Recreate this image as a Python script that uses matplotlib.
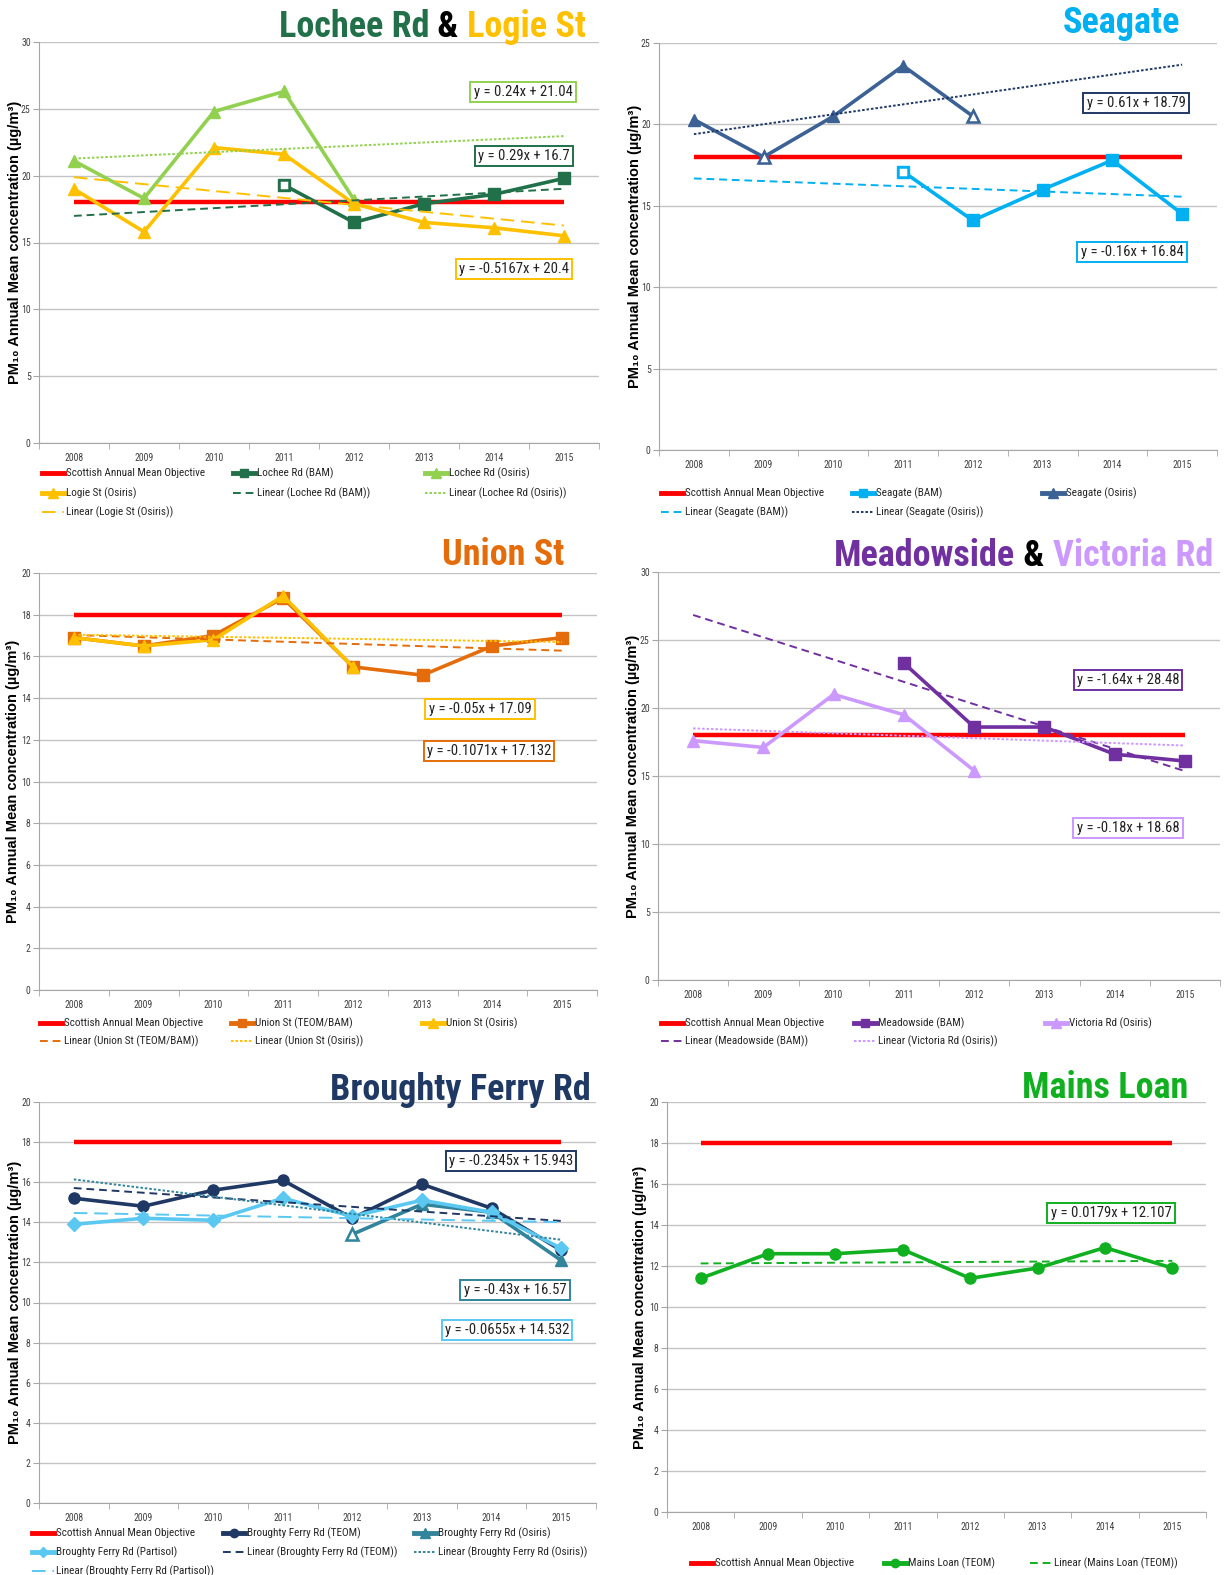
import numpy as np
import matplotlib
matplotlib.use('Agg')
import matplotlib.pyplot as plt
from matplotlib.lines import Line2D
from matplotlib import font_manager as fm

names = {f.name for f in fm.fontManager.ttflist}


def pick(cands):
    for c in cands:
        if c in names:
            return c
    return None


# Excel-style narrow font for ticks, legends and titles
NARROW_NAME = pick(['Liberation Sans Narrow', 'Arial Narrow', 'Roboto Condensed', 'Open Sans Condensed',
                    'Noto Sans Condensed', 'DejaVu Sans Condensed', 'Nimbus Sans Narrow'])
if NARROW_NAME:
    NARROW = [NARROW_NAME, 'DejaVu Sans']
    TSIZE, LSIZE, KSIZE, ESIZE = 26, 8, 7, 10.5
else:
    NARROW = ['Liberation Sans', 'DejaVu Sans']
    TSIZE, LSIZE, KSIZE, ESIZE = 21, 7, 6.5, 9
ARIAL = [pick(['Liberation Sans', 'Arimo', 'Arial']) or 'DejaVu Sans', 'DejaVu Sans']
plt.rcParams['font.family'] = NARROW

nan = np.nan
years = ['2008', '2009', '2010', '2011', '2012', '2013', '2014', '2015']
objective = [18, 18, 18, 18, 18, 18, 18, 18]

# Lochee Rd & Logie St
lochee_bam = [nan, nan, nan, 19.3, 16.5, 17.9, 18.6, 19.8]
lochee_osiris = [21.1, 18.3, 24.8, 26.3, 18.2, nan, nan, nan]
logie_osiris = [19.0, 15.8, 22.1, 21.6, 17.9, 16.5, 16.1, 15.5]
lochee_bam_fit = (0.29, 16.7)
lochee_osiris_fit = (0.24, 21.04)
logie_osiris_fit = (-0.5167, 20.4)

# Seagate
seagate_bam = [nan, nan, nan, 17.1, 14.1, 16.0, 17.8, 14.5]
seagate_osiris = [20.3, 18.0, 20.5, 23.6, 20.5, nan, nan, nan]
seagate_bam_fit = (-0.16, 16.84)
seagate_osiris_fit = (0.61, 18.79)

# Union St
union_teom = [16.9, 16.5, 17.0, 18.8, 15.5, 15.1, 16.5, 16.9]
union_osiris = [16.9, 16.5, 16.8, 18.9, 15.5, nan, nan, nan]
union_teom_fit = (-0.1071, 17.132)
union_osiris_fit = (-0.05, 17.09)

# Meadowside & Victoria Rd
meadowside_bam = [nan, nan, nan, 23.3, 18.6, 18.6, 16.6, 16.1]
victoria_osiris = [17.6, 17.1, 21.0, 19.5, 15.4, nan, nan, nan]
meadowside_fit = (-1.64, 28.48)
victoria_fit = (-0.18, 18.68)

# Broughty Ferry Rd
broughty_teom = [15.2, 14.8, 15.6, 16.1, 14.2, 15.9, 14.7, 12.6]
broughty_osiris = [nan, nan, nan, nan, 13.4, 14.9, 14.5, 12.1]
broughty_partisol = [13.9, 14.2, 14.1, 15.2, 14.3, 15.1, 14.5, 12.7]
broughty_teom_fit = (-0.2345, 15.943)
broughty_osiris_fit = (-0.43, 16.57)
broughty_partisol_fit = (-0.0655, 14.532)

# Mains Loan
mains_teom = [11.4, 12.6, 12.6, 12.8, 11.4, 11.9, 12.9, 11.9]
mains_fit = (0.0179, 12.107)

RED = '#FF0000'
DKGREEN = '#21704A'
LTGREEN = '#92D050'
YELLOW = '#FFC000'
CYAN = '#00B0F0'
STEEL = '#3B6195'
ORANGE = '#E46C0A'
PURPLE = '#7030A0'
LILAC = '#CC99FF'
NAVY = '#1F3864'
TEAL = '#31849B'
SKY = '#5BC8F2'
GREEN = '#10B020'

DASH = (0, (4, 2.5))
SQDOT = (0, (1.3, 1.0))
LONGDASH = (0, (7, 3.5))

W, H = 1226, 1575
fig = plt.figure(figsize=(W / 100, H / 100), dpi=100)
fig.patch.set_facecolor('white')
x = np.arange(1, 9)


def make_axes(l, t, r, b, ymax, step, label_x):
    ax = fig.add_axes([l / W, 1 - b / H, (r - l) / W, (b - t) / H])
    ax.set_xlim(0.5, 8.5)
    ax.set_ylim(0, ymax)
    ax.set_xticks(x)
    ax.set_xticklabels(years)
    ax.set_xticks(np.arange(0.5, 9), minor=True)
    ax.tick_params(axis='x', which='major', length=0, pad=7, labelsize=KSIZE, labelcolor='#404040')
    ax.tick_params(axis='x', which='minor', length=4, color='#A6A6A6')
    ax.set_yticks(np.arange(0, ymax + 0.01, step))
    ax.tick_params(axis='y', length=4, color='#A6A6A6', pad=2, labelsize=KSIZE, labelcolor='#404040')
    ax.grid(axis='y', color='#C4C4C4', lw=1)
    ax.set_axisbelow(True)
    for s in ['top', 'right']:
        ax.spines[s].set_visible(False)
    for s in ['left', 'bottom']:
        ax.spines[s].set_color('#A6A6A6')
    ax.plot(x, objective, color=RED, lw=3.2, zorder=2, solid_capstyle='butt')
    fig.text(label_x / W, 1 - (t + b) / 2 / H, 'PM\u2081\u2080 Annual Mean concentration (µg/m\u00b3)',
             rotation=90, ha='center', va='center', fontsize=10.5, fontweight='bold', family=ARIAL)
    return ax


def series(ax, vals, color, marker, ms, hollow=()):
    ax.plot(x, vals, color=color, lw=2.6, marker=marker, ms=ms, mfc=color, mec=color, zorder=3)
    for i in hollow:
        ax.plot(x[i], vals[i], ls='none', marker=marker, ms=ms - 1, mfc='white', mec=color, mew=1.8, zorder=3)


def trend(ax, fit, color, ls):
    ax.plot(x, fit[0] * x + fit[1], color=color, lw=1.4, ls=ls, zorder=4)


def eqbox(cx, cy, text, color):
    fig.text(cx / W, 1 - cy / H, text, ha='center', va='center', fontsize=ESIZE, color='#222222',
             bbox=dict(boxstyle='square,pad=0.22', fc='white', ec=color, lw=1.4))


def legend(x_cols, y_rows, entries):
    for k, (label, color, ls, lw, marker, ms) in enumerate(entries):
        x0 = x_cols[k % 3]
        y0 = 1 - y_rows[k // 3] / H
        fig.add_artist(Line2D([x0 / W, (x0 + 22) / W], [y0, y0], color=color, ls=ls, lw=lw))
        if marker:
            fig.add_artist(Line2D([(x0 + 11) / W], [y0], marker=marker, ms=ms, color=color, ls='none'))
        fig.text((x0 + 24) / W, y0, label, ha='left', va='center', fontsize=LSIZE, color='#262626')


def title(parts, x_end, y_base):
    r = fig.canvas.get_renderer()
    xe = x_end
    for txt, col in reversed(parts):
        t = fig.text(xe / W, 1 - y_base / H, txt, ha='right', va='baseline', color=col,
                     fontsize=TSIZE, fontweight='bold')
        xe = t.get_window_extent(renderer=r).x0


OBJ = ('Scottish Annual Mean Objective', RED, '-', 3.5, None, 0)

# Panel 1
ax = make_axes(39, 42, 599, 443, 30, 5, 15)
series(ax, lochee_bam, DKGREEN, 's', 8, hollow=[3])
series(ax, lochee_osiris, LTGREEN, '^', 9)
series(ax, logie_osiris, YELLOW, '^', 9)
trend(ax, lochee_bam_fit, DKGREEN, DASH)
trend(ax, lochee_osiris_fit, LTGREEN, SQDOT)
trend(ax, logie_osiris_fit, YELLOW, LONGDASH)
eqbox(523, 92, 'y = 0.24x + 21.04', LTGREEN)
eqbox(524, 156, 'y = 0.29x + 16.7', DKGREEN)
eqbox(514, 269, 'y = -0.5167x + 20.4', YELLOW)
title([('Lochee Rd', DKGREEN), (' & ', 'black'), ('Logie St', YELLOW)], 586, 37)
legend([42, 233, 425], [473, 493, 512], [
    OBJ,
    ('Lochee Rd (BAM)', DKGREEN, '-', 3.5, 's', 6),
    ('Lochee Rd (Osiris)', LTGREEN, '-', 3.5, '^', 7),
    ('Logie St (Osiris)', YELLOW, '-', 3.5, '^', 7),
    ('Linear (Lochee Rd (BAM))', DKGREEN, DASH, 1.4, None, 0),
    ('Linear (Lochee Rd (Osiris))', LTGREEN, SQDOT, 1.4, None, 0),
    ('Linear (Logie St (Osiris))', YELLOW, LONGDASH, 1.4, None, 0),
])

# Panel 2
ax = make_axes(659, 43, 1217, 450, 25, 5, 635)
series(ax, seagate_bam, CYAN, 's', 8, hollow=[3])
series(ax, seagate_osiris, STEEL, '^', 9, hollow=[1, 4])
trend(ax, seagate_bam_fit, CYAN, DASH)
trend(ax, seagate_osiris_fit, NAVY, SQDOT)
eqbox(1136, 103, 'y = 0.61x + 18.79', NAVY)
eqbox(1132, 252, 'y = -0.16x + 16.84', CYAN)
title([('Seagate', CYAN)], 1180, 33)
legend([661, 852, 1042], [493, 512], [
    OBJ,
    ('Seagate (BAM)', CYAN, '-', 3.5, 's', 6),
    ('Seagate (Osiris)', STEEL, '-', 3.5, '^', 7),
    ('Linear (Seagate (BAM))', CYAN, DASH, 1.4, None, 0),
    ('Linear (Seagate (Osiris))', NAVY, SQDOT, 1.4, None, 0),
])

# Panel 3
ax = make_axes(39, 573, 597, 990, 20, 2, 13)
series(ax, union_teom, ORANGE, 's', 8)
series(ax, union_osiris, YELLOW, '^', 9)
trend(ax, union_teom_fit, ORANGE, DASH)
trend(ax, union_osiris_fit, YELLOW, SQDOT)
eqbox(480, 709, 'y = -0.05x + 17.09', YELLOW)
eqbox(489, 751, 'y = -0.1071x + 17.132', ORANGE)
title([('Union St', ORANGE)], 564, 565)
legend([40, 231, 422], [1023, 1041], [
    OBJ,
    ('Union St (TEOM/BAM)', ORANGE, '-', 3.5, 's', 6),
    ('Union St (Osiris)', YELLOW, '-', 3.5, '^', 7),
    ('Linear (Union St (TEOM/BAM))', ORANGE, DASH, 1.4, None, 0),
    ('Linear (Union St (Osiris))', YELLOW, SQDOT, 1.4, None, 0),
])

# Panel 4
ax = make_axes(658, 572, 1220, 980, 30, 5, 633)
series(ax, meadowside_bam, PURPLE, 's', 8)
series(ax, victoria_osiris, LILAC, '^', 9)
trend(ax, meadowside_fit, PURPLE, DASH)
trend(ax, victoria_fit, LILAC, SQDOT)
eqbox(1128, 680, 'y = -1.64x + 28.48', PURPLE)
eqbox(1128, 828, 'y = -0.18x + 18.68', LILAC)
title([('Meadowside', PURPLE), (' & ', 'black'), ('Victoria Rd', LILAC)], 1213, 566)
legend([661, 854, 1045], [1023, 1041], [
    OBJ,
    ('Meadowside (BAM)', PURPLE, '-', 3.5, 's', 6),
    ('Victoria Rd (Osiris)', LILAC, '-', 3.5, '^', 7),
    ('Linear (Meadowside (BAM))', PURPLE, DASH, 1.4, None, 0),
    ('Linear (Victoria Rd (Osiris))', LILAC, SQDOT, 1.4, None, 0),
])

# Panel 5
ax = make_axes(39, 1102, 596, 1503, 20, 2, 15)
series(ax, broughty_teom, NAVY, 'o', 8)
series(ax, broughty_osiris, TEAL, '^', 9, hollow=[4])
series(ax, broughty_partisol, SKY, 'D', 7)
trend(ax, broughty_teom_fit, NAVY, DASH)
trend(ax, broughty_osiris_fit, TEAL, SQDOT)
trend(ax, broughty_partisol_fit, SKY, LONGDASH)
eqbox(511, 1161, 'y = -0.2345x + 15.943', NAVY)
eqbox(515, 1290, 'y = -0.43x + 16.57', TEAL)
eqbox(507, 1330, 'y = -0.0655x + 14.532', SKY)
title([('Broughty Ferry Rd', NAVY)], 591, 1100)
legend([32, 223, 414], [1533, 1552, 1571], [
    OBJ,
    ('Broughty Ferry Rd (TEOM)', NAVY, '-', 3.5, 'o', 6),
    ('Broughty Ferry Rd (Osiris)', TEAL, '-', 3.5, '^', 7),
    ('Broughty Ferry Rd (Partisol)', SKY, '-', 3.5, 'D', 5),
    ('Linear (Broughty Ferry Rd (TEOM))', NAVY, DASH, 1.4, None, 0),
    ('Linear (Broughty Ferry Rd (Osiris))', TEAL, SQDOT, 1.4, None, 0),
    ('Linear (Broughty Ferry Rd (Partisol))', SKY, LONGDASH, 1.4, None, 0),
])

# Panel 6
ax = make_axes(667, 1102, 1206, 1512, 20, 2, 640)
series(ax, mains_teom, GREEN, 'o', 8)
trend(ax, mains_fit, GREEN, DASH)
eqbox(1111, 1213, 'y = 0.0179x + 12.107', GREEN)
title([('Mains Loan', GREEN)], 1188, 1098)
legend([691, 884, 1030], [1563], [
    OBJ,
    ('Mains Loan (TEOM)', GREEN, '-', 3.5, 'o', 6),
    ('Linear (Mains Loan (TEOM))', GREEN, DASH, 1.4, None, 0),
])

fig.savefig('out.png', dpi=100, facecolor='white')
